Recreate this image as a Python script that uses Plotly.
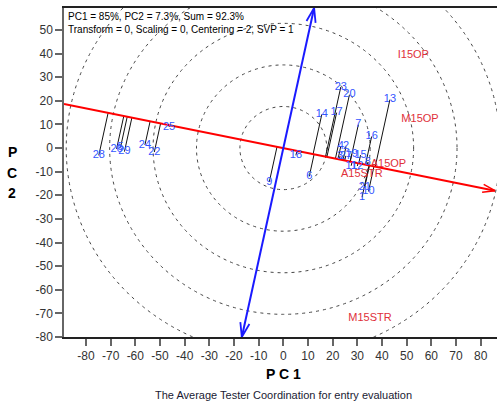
import math
import plotly.graph_objects as go

# ---------------- data ----------------
geno_labels = [str(i) for i in range(1, 30)]
geno_x = [31.9, 25.4, 23.0, 23.3, -66.0, 10.5, 30.4, 34.2, -5.7, 34.5,
          27.5, 30.0, 43.2, 15.6, 31.3, 35.8, 21.6, 5.1, 27.7, 26.8,
          33.0, -52.3, 23.3, -56.1, -46.3, -67.6, 25.3, -74.8, -64.4]
geno_y = [-20.8, 0.6, -3.3, 0.8, 0.3, -12.0, 9.9, -6.0, -14.4, -18.4,
          -7.5, -7.6, 20.5, 14.3, -3.0, 4.9, 15.0, -3.1, -2.6, 22.6,
          -16.5, -1.7, 25.9, 1.3, 8.9, -0.4, -3.3, -3.1, -1.5]

env_labels = ["I15OP", "M15OP", "A15OP", "A15STR", "M15STR"]
env_x = [52.7, 55.4, 42.6, 31.8, 35.1]
env_y = [39.3, 12.2, -6.9, -10.9, -71.9]

# average-environment direction (ATC abscissa passes through origin and this point)
aec_point = (43.5, -9.15)
circle_step = 17.6
n_circles = 5

info_line1 = "PC1 = 85%, PC2 = 7.3%, Sum = 92.3%"
info_line2 = "Transform = 0, Scaling = 0, Centering = 2, SVP = 1"
caption = "The Average Tester Coordination for entry evaluation"

x_ticks = list(range(-80, 81, 10))
y_ticks = list(range(-80, 51, 10))

# ---------------- layout geometry ----------------
W, H = 497, 410
ML, MR, MT, MB = 64, 0, 8, 73
xr = [-88.9, 86.6]
yr = [-80.0, 59.3]
sx = (W - ML - MR) / (xr[1] - xr[0])
sy = (H - MT - MB) / (yr[1] - yr[0])

def to_px(x, y):
    return (x - xr[0]) * sx, (y - yr[0]) * sy

def to_data(px, py):
    return px / sx + xr[0], py / sy + yr[0]

# ATC line direction (data units)
dx, dy = aec_point
n = math.hypot(dx, dy)
ux, uy = dx / n, dy / n
vx, vy = -uy, ux

t_left = xr[0] / ux
t_right = 85.8 / ux
red_x = [t_left * ux, t_right * ux]
red_y = [t_left * uy, t_right * uy]

t_top = yr[1] / vy
t_bot = yr[0] / vy
blue_x = [t_bot * vx, t_top * vx]
blue_y = [t_bot * vy, t_top * vy]

def arrow_head(tip, tail, L=14, ang=20):
    tpx, tpy = to_px(*tip)
    bpx, bpy = to_px(*tail)
    ddx, ddy = bpx - tpx, bpy - tpy
    dn = math.hypot(ddx, ddy)
    ddx, ddy = ddx / dn, ddy / dn
    xs, ys = [], []
    for s in (1, -1):
        a = math.radians(ang) * s
        rx = ddx * math.cos(a) - ddy * math.sin(a)
        ry = ddx * math.sin(a) + ddy * math.cos(a)
        ex, ey = to_data(tpx + rx * L, tpy + ry * L)
        xs += [ex, tip[0], None]
        ys += [ey, tip[1], None]
    return xs, ys

fig = go.Figure()

# projection lines
px_, py_ = [], []
for gx, gy in zip(geno_x, geno_y):
    t = gx * ux + gy * uy
    px_ += [gx, t * ux, None]
    py_ += [gy, t * uy, None]
fig.add_trace(go.Scatter(x=px_, y=py_, mode="lines",
                         line=dict(color="#111111", width=1), hoverinfo="skip"))

# red ATC abscissa
fig.add_trace(go.Scatter(x=red_x, y=red_y, mode="lines",
                         line=dict(color="#ff0000", width=2), hoverinfo="skip"))
ax_, ay_ = arrow_head((red_x[1], red_y[1]), (0, 0), L=13, ang=18)
fig.add_trace(go.Scatter(x=ax_, y=ay_, mode="lines",
                         line=dict(color="#ff0000", width=1.5), hoverinfo="skip"))

# blue ATC ordinate
fig.add_trace(go.Scatter(x=blue_x, y=blue_y, mode="lines",
                         line=dict(color="#1a1aff", width=2), hoverinfo="skip"))
bx1, by1 = arrow_head((blue_x[1], blue_y[1]), (0, 0), L=15, ang=18)
bx2, by2 = arrow_head((blue_x[0], blue_y[0]), (0, 0), L=15, ang=18)
fig.add_trace(go.Scatter(x=bx1 + bx2, y=by1 + by2, mode="lines",
                         line=dict(color="#1a1aff", width=1.8), hoverinfo="skip"))

# genotype labels
fig.add_trace(go.Scatter(x=geno_x, y=geno_y, mode="text", text=geno_labels,
                         textposition="middle center",
                         textfont=dict(family="Liberation Sans", size=11, color="#3355ff"),
                         hoverinfo="skip"))
# environment labels
fig.add_trace(go.Scatter(x=env_x, y=env_y, mode="text", text=env_labels,
                         textposition="middle center",
                         textfont=dict(family="Liberation Sans", size=11, color="#e0303a"),
                         hoverinfo="skip"))

# concentric circles
shapes = []
for k in range(1, n_circles + 1):
    r = circle_step * k
    shapes.append(dict(type="circle", xref="x", yref="y", x0=-r, x1=r, y0=-r, y1=r,
                       line=dict(color="#444444", width=1, dash="3px,4px"), layer="below"))

annotations = [
    dict(xref="paper", yref="paper", x=0, y=1, xshift=2, yshift=-1,
         xanchor="left", yanchor="top", align="left", showarrow=False,
         text=info_line1 + "<br>" + info_line2,
         font=dict(family="Liberation Sans", size=10, color="#000000")),
    dict(xref="paper", yref="paper", x=(283 - ML) / (W - ML - MR), y=0, yshift=-37,
         xanchor="center", yanchor="middle", showarrow=False,
         text="<b>P C 1</b>", font=dict(family="Liberation Sans", size=14, color="#000000")),
    dict(xref="paper", yref="paper", x=(283 - ML) / (W - ML - MR), y=0, yshift=-58,
         xanchor="center", yanchor="middle", showarrow=False,
         text=caption, font=dict(family="Liberation Sans", size=11, color="#1a1a33")),
]
for i, ch in enumerate(["P", "C", "2"]):
    annotations.append(dict(xref="paper", yref="paper", x=0, xshift=-52,
                            y=(H - MB - (152 + 20.5 * i)) / (H - MT - MB),
                            xanchor="center", yanchor="middle", showarrow=False,
                            text="<b>" + ch + "</b>",
                            font=dict(family="Liberation Sans", size=14, color="#000000")))

fig.update_layout(
    width=W, height=H,
    margin=dict(l=ML, r=MR, t=MT, b=MB, pad=0),
    paper_bgcolor="white", plot_bgcolor="white",
    showlegend=False,
    shapes=shapes,
    annotations=annotations,
    xaxis=dict(range=xr, tickvals=x_ticks, ticktext=[str(v) for v in x_ticks],
               showgrid=False, zeroline=False, showline=True, linecolor="#222222",
               linewidth=1.5, mirror=True, ticks="outside", ticklen=7, tickwidth=1.5,
               tickcolor="#666666",
               tickfont=dict(family="Liberation Sans", size=12, color="#333333")),
    yaxis=dict(range=yr, tickvals=y_ticks, ticktext=[str(v) for v in y_ticks],
               showgrid=False, zeroline=False, showline=True, linecolor="#666666",
               linewidth=1.5, ticks="outside", ticklen=7, tickwidth=1.5,
               tickcolor="#666666",
               tickfont=dict(family="Liberation Sans", size=12, color="#333333")),
)

fig.write_html("out.html")
